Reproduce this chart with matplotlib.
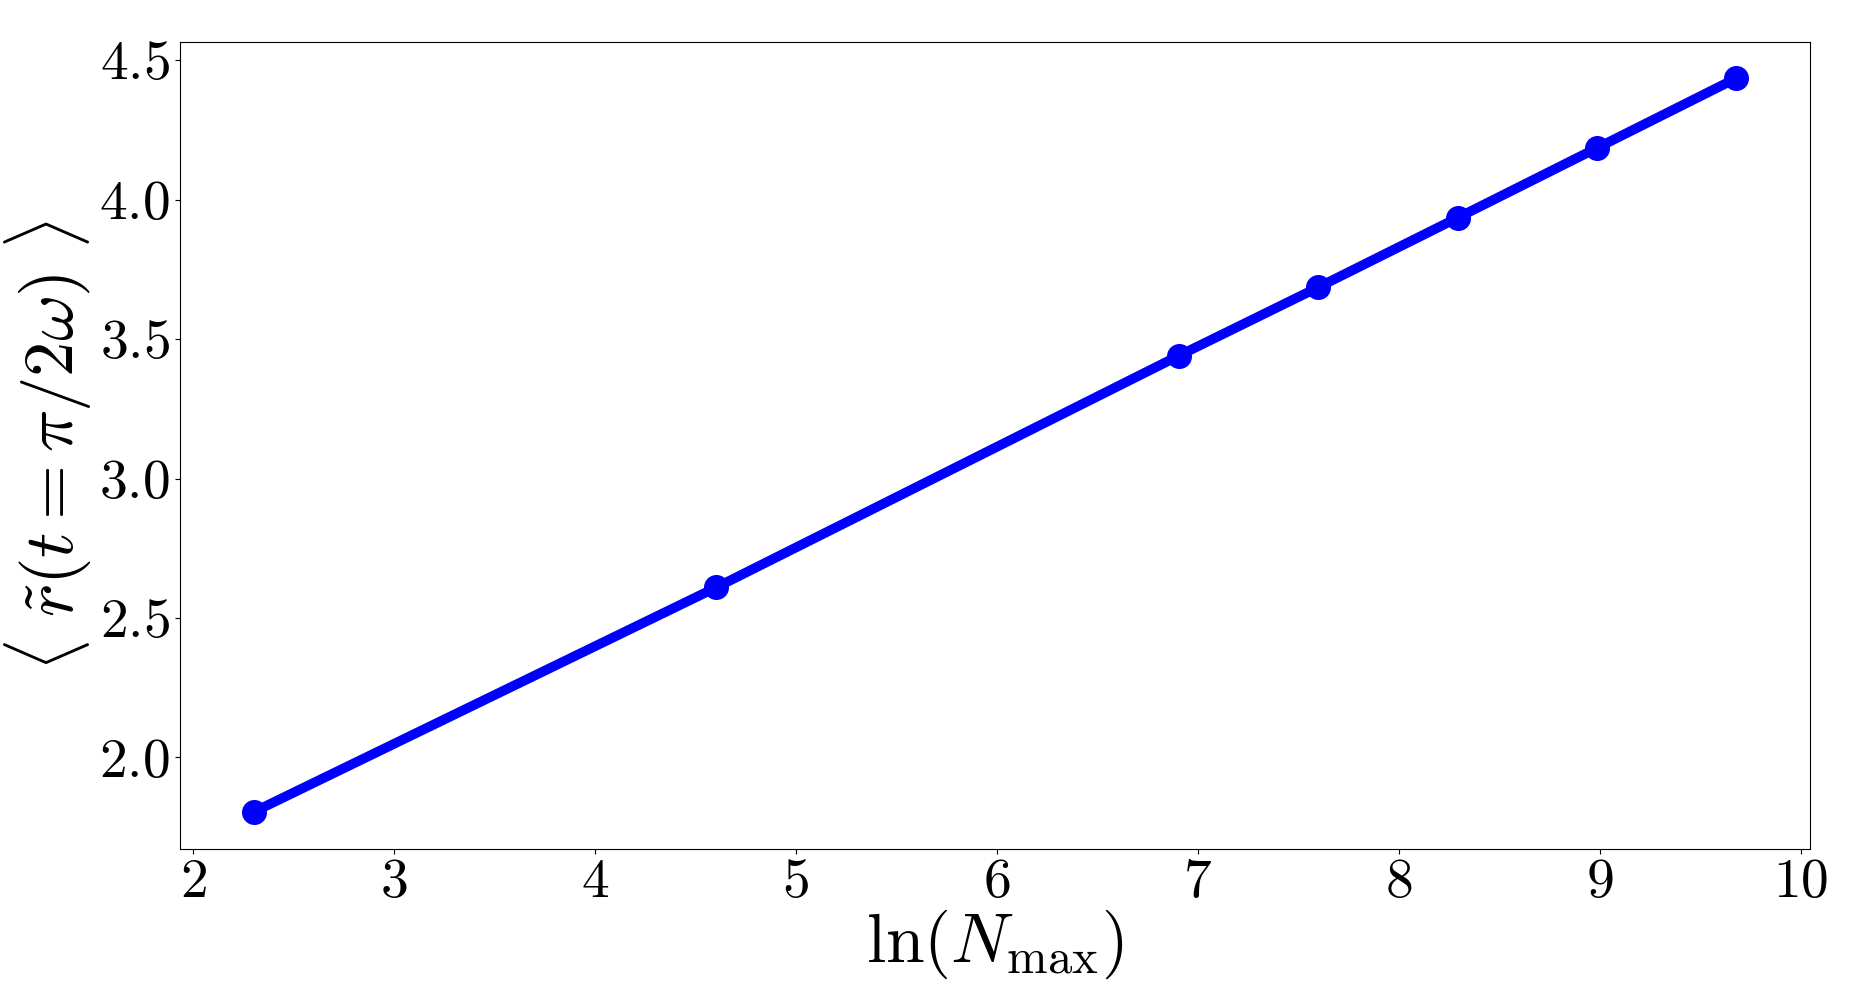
import matplotlib
matplotlib.use('Agg')
import matplotlib.pyplot as plt

plt.rcParams['mathtext.fontset'] = 'cm'
plt.rcParams['font.family'] = 'serif'
plt.rcParams['font.serif'] = ['cmr10']
plt.rcParams['axes.unicode_minus'] = False
plt.rcParams['axes.formatter.use_mathtext'] = True

# ln(N_max) for N_max = 10, 100, 1000, 2000, 4000, 8000, 16000
ln_nmax = [2.303, 4.605, 6.908, 7.601, 8.294, 8.987, 9.680]
r_mean = [1.805, 2.610, 3.441, 3.686, 3.935, 4.185, 4.435]

fig = plt.figure(figsize=(18.53, 9.89), dpi=100)
ax = fig.add_axes([0.097, 0.142, 0.88, 0.816])
ax.plot(ln_nmax, r_mean, color='b', marker='o', linewidth=7, markersize=17)

ax.set_xlabel(r'$\ln(N_{\max})$', fontsize=50, labelpad=0)
ax.set_ylabel(r'$\langle\ \tilde{r}(t=\pi/2\omega)\ \rangle$', fontsize=51, labelpad=4)
ax.tick_params(labelsize=40)

fig.savefig('out.png', dpi=100)
